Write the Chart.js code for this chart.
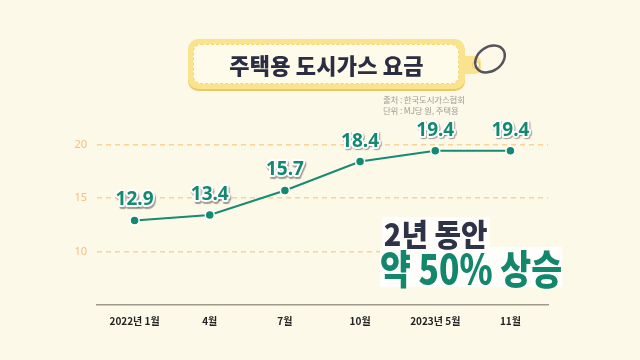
<!DOCTYPE html>
<html>
<head>
<meta charset="utf-8">
<script src="https://cdn.jsdelivr.net/npm/chart.js@4"></script>
<style>
  html, body { margin:0; padding:0; background:#fdf9e9; }
  #wrap { position:relative; width:640px; height:360px; overflow:hidden; background:#fdf9e9; font-family:"Noto Sans CJK KR","Noto Sans",sans-serif; }
  #c { position:absolute; left:0; top:0; }
  .tag { position:absolute; left:188px; top:39px; width:277px; height:50px; background:#fae38f; border-radius:10px; box-shadow:0 2px 0 #e9c867; }
  .tag-inner { position:absolute; left:5px; top:5px; right:6px; bottom:5px; background:#fffbea; border:1.5px dashed #f6d86f; border-radius:8px; box-sizing:border-box; }
  .tab { position:absolute; left:461px; top:56px; width:20px; height:18px; background:#fae38f; border-radius:0 6px 6px 0; }
  .title { position:absolute; left:188px; top:39px; width:277px; height:50px; line-height:50px; text-align:center; font-weight:900; font-size:22px; color:#2b2d42; letter-spacing:0.2px; }
  .src { position:absolute; left:383px; top:94px; font-size:8.5px; line-height:11px; color:#a09c94; letter-spacing:-0.2px; white-space:nowrap; }
  .h1 { position:absolute; left:382px; top:217px; font-size:31px; line-height:32px; font-weight:900; color:#2f3347; background:#fffefa; padding:0 2px; white-space:nowrap; transform:scaleX(0.93); transform-origin:left center; z-index:3; }
  .h2 { position:absolute; left:380px; top:247px; font-size:40px; line-height:40px; font-weight:900; color:#13876b; background:#fffefa; white-space:nowrap; transform:scaleX(0.84); transform-origin:left center; z-index:2; }
  svg.ring { position:absolute; left:0; top:0; }
</style>
</head>
<body>
<div id="wrap">
  <canvas id="c" width="640" height="360"></canvas>
  <div class="tab"></div>
  <div class="tag"><div class="tag-inner"></div></div>
  <svg class="ring" width="640" height="120">
    <circle cx="476" cy="65" r="3.5" fill="#fdf9e9" stroke="#e2c25e" stroke-width="1"/>
    <ellipse cx="490" cy="59" rx="16" ry="12" transform="rotate(-35 490 59)" fill="none" stroke="#55545a" stroke-width="2.5"/>
  </svg>
  <div class="title">주택용 도시가스 요금</div>
  <div class="src">출처 : 한국도시가스협회<br>단위 : MJ당 원, 주택용</div>
  <div class="h1">2년 동안</div>
  <div class="h2">약 50% 상승</div>
</div>
<script>
const categories = ['2022년 1월', '4월', '7월', '10월', '2023년 5월', '11월'];
const prices = [12.9, 13.4, 15.7, 18.4, 19.4, 19.4];
const yTicks = [10, 15, 20];

const green = '#138a6e';

const labelPlugin = {
  id: 'valueLabels',
  afterDatasetsDraw(chart) {
    const ctx = chart.ctx;
    const meta = chart.getDatasetMeta(0);
    ctx.save();
    ctx.font = 'bold 19px "Noto Sans", sans-serif';
    ctx.textAlign = 'center';
    ctx.textBaseline = 'alphabetic';
    meta.data.forEach((pt, i) => {
      const txt = prices[i].toFixed(1);
      const x = pt.x, y = pt.y - 15;
      ctx.shadowColor = 'rgba(40,40,40,0.45)';
      ctx.shadowOffsetX = 1;
      ctx.shadowOffsetY = 1.5;
      ctx.shadowBlur = 1;
      ctx.lineJoin = 'round';
      ctx.lineWidth = 4;
      ctx.strokeStyle = '#ffffff';
      ctx.strokeText(txt, x, y);
      ctx.shadowColor = 'transparent';
      ctx.fillStyle = green;
      ctx.fillText(txt, x, y);
    });
    ctx.restore();
  }
};

new Chart(document.getElementById('c'), {
  type: 'line',
  data: {
    labels: categories,
    datasets: [{
      data: prices,
      borderColor: '#168a72',
      borderWidth: 2,
      backgroundColor: green,
      pointBackgroundColor: green,
      pointBorderColor: '#ffffff',
      pointBorderWidth: 1.5,
      pointRadius: 4.5,
      tension: 0,
      fill: false
    }]
  },
  options: {
    responsive: false,
    animation: false,
    devicePixelRatio: 1,
    layout: { padding: { top: 123, right: 92, bottom: 0, left: 0 } },
    plugins: { legend: { display: false }, tooltip: { enabled: false } },
    scales: {
      x: {
        type: 'category',
        offset: true,
        grid: { display: false, drawTicks: false },
        border: { display: true, color: '#a09a8c', width: 1.5 },
        ticks: { color: '#222222', font: { family: '"Noto Sans CJK KR", sans-serif', size: 10, weight: 'bold' }, padding: 10, maxRotation: 0 },
        afterFit(scale) { scale.height = 55; }
      },
      y: {
        min: 5,
        max: 22,
        afterBuildTicks(scale) { scale.ticks = yTicks.map(v => ({ value: v })); },
        grid: { color: '#f9d294', lineWidth: 1.5, drawTicks: false },
        border: { display: false, dash: [5, 4] },
        ticks: { color: '#f3c07a', font: { family: '"Noto Sans", sans-serif', size: 11 }, padding: 10 },
        afterFit(scale) { scale.width = 97; }
      }
    }
  },
  plugins: [labelPlugin]
});
</script>
</body>
</html>
